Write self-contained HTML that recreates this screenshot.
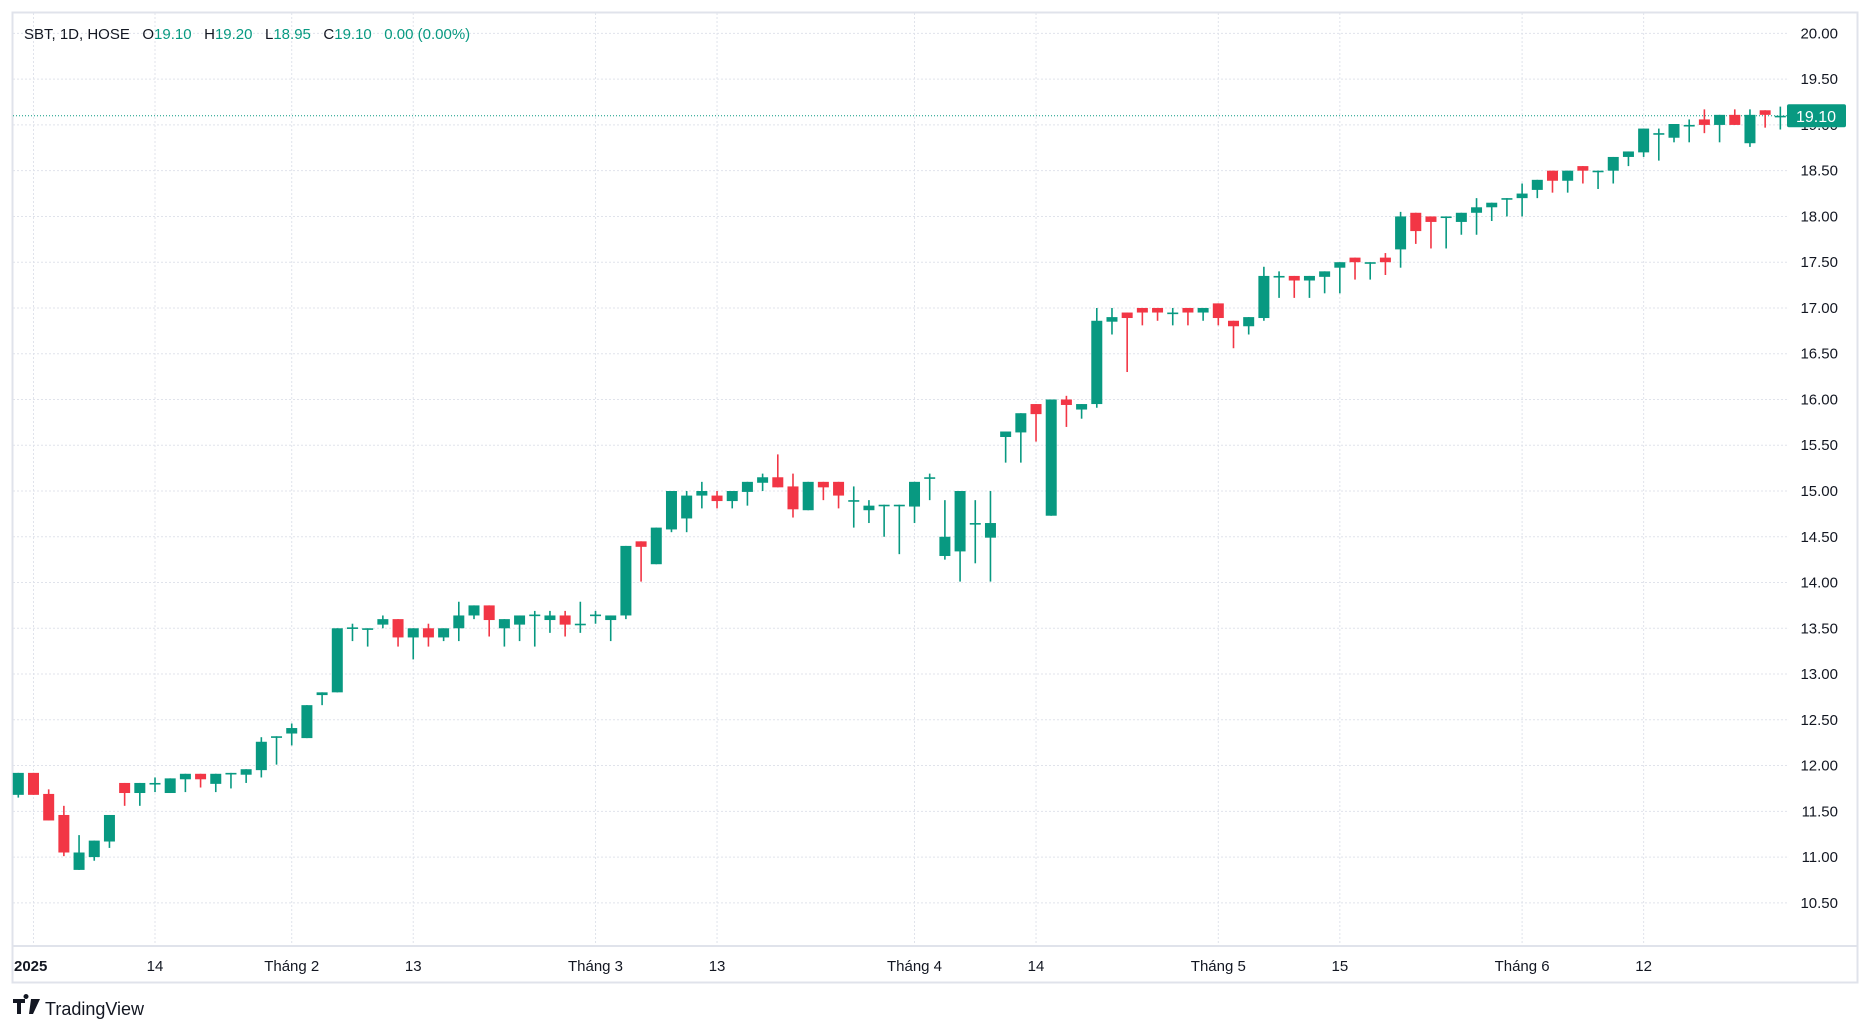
<!DOCTYPE html>
<html><head><meta charset="utf-8"><style>
html,body{margin:0;padding:0;background:#fff;}
svg{display:block;font-family:"Liberation Sans",sans-serif;}
</style></head><body>
<svg id="chart" width="1870" height="1031" viewBox="0 0 1870 1031" xmlns="http://www.w3.org/2000/svg">
<rect x="0" y="0" width="1870" height="1031" fill="#fff"/>
<rect x="12.5" y="12.5" width="1845" height="970" fill="none" stroke="#e0e3eb" stroke-width="2"/>
<line x1="13" y1="946" x2="1857" y2="946" stroke="#e0e3eb" stroke-width="2"/>
<g id="grid"></g>
<g id="candles"></g>
<g id="yaxis"></g>
<g id="xaxis"></g>
<text x="24" y="39" font-size="15" fill="#131722" style="white-space:pre" xml:space="preserve">SBT, 1D, HOSE   O<tspan fill="#089981">19.10</tspan>   H<tspan fill="#089981">19.20</tspan>   L<tspan fill="#089981">18.95</tspan>   C<tspan fill="#089981">19.10   0.00 (0.00%)</tspan></text>
<g>
<path d="M13 999h12v4h-4v11h-4v-11h-4z M26 999a2.5 2.5 0 1 1 0.01 0z M31 999h9l-7 15h-4z" fill="#131722"/>
<text x="45" y="1015" font-size="18" fill="#131722">TradingView</text>
</g>
</svg>
<script>
const opens=[11.68,11.92,11.69,11.46,10.86,11.00,11.17,11.81,11.70,11.80,11.70,11.85,11.91,11.80,11.91,11.90,11.95,12.31,12.35,12.30,12.77,12.80,13.50,13.50,13.54,13.60,13.40,13.50,13.40,13.50,13.64,13.75,13.50,13.54,13.64,13.59,13.64,13.54,13.64,13.59,13.64,14.45,14.20,14.58,14.70,14.95,14.95,14.89,14.99,15.09,15.15,15.05,14.79,15.10,15.10,14.90,14.79,14.84,14.84,14.83,15.14,14.29,14.34,14.64,14.49,15.59,15.64,15.95,14.73,16.00,15.89,15.95,16.85,16.95,17.00,17.00,16.95,17.00,16.95,17.05,16.86,16.80,16.89,17.35,17.35,17.30,17.34,17.44,17.55,17.50,17.55,17.64,18.04,18.00,18.00,17.94,18.04,18.10,18.20,18.20,18.29,18.50,18.39,18.55,18.50,18.50,18.65,18.70,18.90,18.86,19.00,19.06,19.00,19.11,18.80,19.16,19.10];
const highs=[11.92,11.92,11.74,11.56,11.24,11.18,11.46,11.81,11.81,11.87,11.86,11.91,11.91,11.91,11.92,11.96,12.31,12.32,12.46,12.66,12.80,13.50,13.55,13.50,13.64,13.60,13.50,13.55,13.50,13.79,13.75,13.75,13.60,13.64,13.69,13.69,13.69,13.79,13.69,13.64,14.40,14.45,14.60,15.00,15.00,15.10,15.00,15.00,15.10,15.19,15.40,15.19,15.10,15.10,15.10,15.05,14.90,14.85,14.85,15.10,15.19,14.90,15.00,14.90,15.00,15.65,15.85,15.95,16.00,16.04,15.95,17.00,17.00,16.95,17.00,17.00,17.00,17.00,17.00,17.05,16.86,16.90,17.45,17.40,17.35,17.35,17.40,17.50,17.55,17.50,17.60,18.05,18.04,18.00,18.00,18.04,18.20,18.15,18.20,18.36,18.40,18.50,18.50,18.55,18.50,18.65,18.71,18.96,18.96,19.01,19.06,19.17,19.11,19.17,19.17,19.16,19.20];
const lows=[11.65,11.68,11.40,11.01,10.86,10.96,11.10,11.56,11.56,11.71,11.70,11.71,11.76,11.71,11.75,11.81,11.87,12.01,12.22,12.30,12.66,12.80,13.36,13.30,13.50,13.30,13.16,13.30,13.36,13.36,13.60,13.41,13.30,13.36,13.30,13.45,13.41,13.45,13.55,13.36,13.60,14.01,14.20,14.55,14.55,14.81,14.81,14.81,14.84,15.00,15.04,14.71,14.79,14.90,14.81,14.60,14.65,14.50,14.31,14.65,14.90,14.25,14.01,14.21,14.01,15.31,15.31,15.54,14.73,15.70,15.79,15.91,16.71,16.30,16.81,16.86,16.81,16.81,16.86,16.81,16.56,16.71,16.86,17.11,17.11,17.11,17.16,17.16,17.31,17.31,17.36,17.44,17.70,17.65,17.65,17.80,17.80,17.95,18.00,18.00,18.20,18.26,18.26,18.36,18.30,18.36,18.55,18.65,18.61,18.81,18.81,18.91,18.81,19.00,18.76,18.97,18.95];
const closes=[11.92,11.68,11.40,11.05,11.05,11.18,11.46,11.70,11.81,11.81,11.86,11.91,11.85,11.91,11.92,11.96,12.26,12.32,12.41,12.66,12.80,13.50,13.51,13.50,13.60,13.40,13.50,13.40,13.50,13.64,13.75,13.59,13.60,13.64,13.65,13.64,13.54,13.55,13.65,13.64,14.40,14.39,14.60,15.00,14.95,15.00,14.89,15.00,15.10,15.15,15.04,14.80,15.10,15.04,14.95,14.90,14.84,14.85,14.85,15.10,15.15,14.50,15.00,14.65,14.65,15.65,15.85,15.84,16.00,15.94,15.95,16.86,16.90,16.89,16.95,16.95,16.95,16.95,17.00,16.89,16.80,16.90,17.35,17.35,17.30,17.35,17.40,17.50,17.50,17.50,17.50,18.00,17.84,17.94,18.00,18.04,18.10,18.15,18.20,18.25,18.40,18.39,18.50,18.50,18.50,18.65,18.71,18.96,18.91,19.01,19.00,19.00,19.11,19.00,19.11,19.11,19.10];
const priceTicks=["20.00","19.50","19.00","18.50","18.00","17.50","17.00","16.50","16.00","15.50","15.00","14.50","14.00","13.50","13.00","12.50","12.00","11.50","11.00","10.50"];
const timeLabels=["2025","14","Tháng 2","13","Tháng 3","13","Tháng 4","14","Tháng 5","15","Tháng 6","12"];
const timeIdx=[1,9,18,26,38,46,59,67,79,87,99,107];
const lastPrice=19.10;

const NS="http://www.w3.org/2000/svg";
function yOf(p){return 33.4+(20-p)*91.52;}
function xOf(i){return 18.3+i*15.19;}
function mk(tag,attrs,parent){const e=document.createElementNS(NS,tag);for(const k in attrs)e.setAttribute(k,attrs[k]);parent.appendChild(e);return e;}
const grid=document.getElementById('grid'),cg=document.getElementById('candles'),ya=document.getElementById('yaxis'),xa=document.getElementById('xaxis');
priceTicks.forEach(t=>{
  const y=yOf(parseFloat(t));
  const l=mk('line',{x1:13,x2:1787,y1:y,y2:y,stroke:'#e0e3eb','stroke-width':1,'stroke-dasharray':'2 2'},grid);
  
  
  const tx=mk('text',{x:1838,y:y+5,'text-anchor':'end','font-size':15,fill:'#131722'},ya);
  tx.textContent=t;
  
  
});
timeLabels.forEach((t,k)=>{
  const x=xOf(timeIdx[k]);
  const l=mk('line',{x1:x,x2:x,y1:13,y2:946,stroke:'#e0e3eb','stroke-width':1,'stroke-dasharray':'2 2'},grid);
  
  
  const tx=mk('text',{x:k===0?14:x,y:971,'text-anchor':k===0?'start':'middle','font-size':15,fill:'#131722','font-weight':k===0?'bold':'normal'},xa);
  tx.textContent=t;
  
  
});
opens.forEach((o,i)=>{
  const c=closes[i],h=highs[i],lo=lows[i];
  const up=c>=o,col=up?'#089981':'#F23645',x=xOf(i);
  const g=mk('g',{},cg);
  
  
  mk('line',{x1:x,x2:x,y1:yOf(h),y2:yOf(lo),stroke:col,'stroke-width':1.6},g);
  const top=yOf(Math.max(o,c)),bot=yOf(Math.min(o,c));
  mk('rect',{x:x-5.5,y:top,width:11,height:Math.max(1.6,bot-top),fill:col},g);
});
const py=yOf(lastPrice);
const pl=mk('line',{x1:13,x2:1787,y1:py,y2:py,stroke:'#089981','stroke-width':1,'stroke-dasharray':'1 2'},grid);


const pb=mk('rect',{x:1787,y:py-11.5,width:59,height:23,rx:2,fill:'#089981'},ya);


const pt=mk('text',{x:1816,y:py+6,'text-anchor':'middle','font-size':16,fill:'#fff'},ya);
pt.textContent=lastPrice.toFixed(2);


</script>
</body></html>
